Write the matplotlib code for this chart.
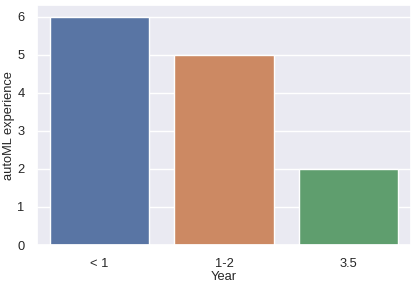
import matplotlib
matplotlib.use("Agg")
import matplotlib.pyplot as plt
import seaborn as sns

# Data
years = ["< 1", "1-2", "3.5"]
counts = [6, 5, 2]

sns.set_theme(style="darkgrid")
plt.rcParams['font.family'] = ['Liberation Sans', 'DejaVu Sans']

fig = plt.figure(figsize=(4.13, 2.83), dpi=100)
ax = fig.add_axes([0.09, 0.134, 0.905, 0.848])

sns.barplot(x=years, y=counts, hue=years, palette="deep", legend=False, ax=ax)

ax.set_xlabel("Year", fontsize=9.3, labelpad=1)
ax.set_ylabel("autoML experience", fontsize=9.3, labelpad=1.5)
ax.tick_params(axis="both", labelsize=9.3, pad=3)

fig.savefig("out.png", dpi=100)
